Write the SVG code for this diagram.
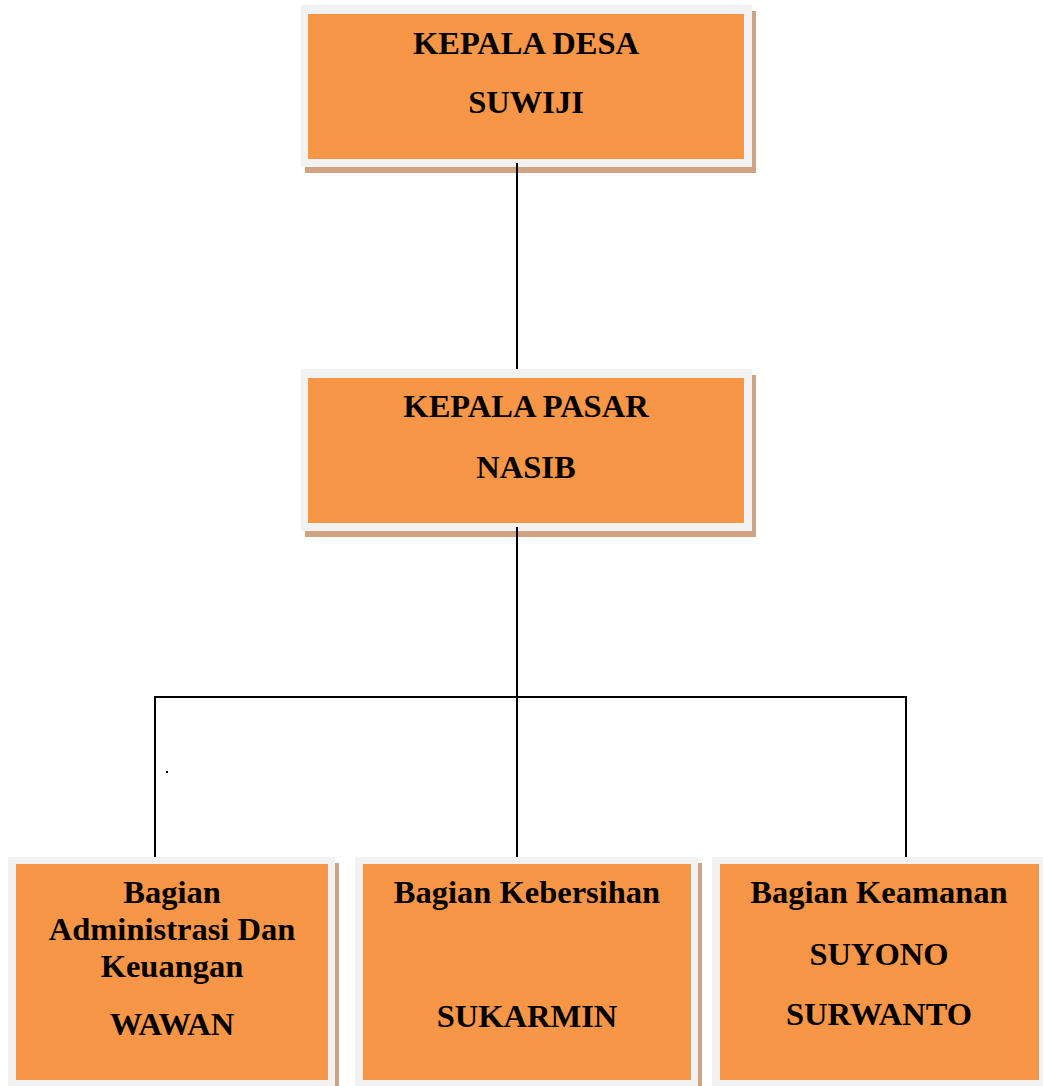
<svg xmlns="http://www.w3.org/2000/svg" width="1043" height="1086" viewBox="0 0 1043 1086">
<style>
.sh{fill:#d0a382}
.bd{fill:#f2f2f2}
.bx{fill:#f79646}
.t{font-family:"Liberation Serif","Times New Roman",serif;font-weight:bold;font-size:32.5px;fill:#000;text-anchor:middle}
.ln{stroke:#000;stroke-width:2;fill:none}
</style>
<rect width="1043" height="1086" fill="#fff"/>
<g id="kepala-desa">
<rect class="sh" x="305" y="11" width="451" height="162"/>
<rect class="bd" x="301" y="5" width="451" height="162"/>
<rect class="bx" x="308" y="14" width="436" height="145"/>
<text class="t" x="526" y="54">KEPALA DESA</text>
<text class="t" x="526" y="113">SUWIJI</text>
</g>
<g id="kepala-pasar">
<rect class="sh" x="305" y="375" width="451" height="162"/>
<rect class="bd" x="301" y="369" width="451" height="162"/>
<rect class="bx" x="308" y="378" width="436" height="145"/>
<text class="t" x="526" y="417">KEPALA PASAR</text>
<text class="t" x="526" y="478">NASIB</text>
</g>
<g id="bagian-admin">
<rect class="sh" x="12" y="863" width="327" height="230"/>
<rect class="bd" x="8" y="857" width="327" height="230"/>
<rect class="bx" x="16" y="864" width="312" height="216"/>
<text class="t" x="172" y="903">Bagian</text>
<text class="t" x="172" y="940">Administrasi Dan</text>
<text class="t" x="172" y="977">Keuangan</text>
<text class="t" x="172" y="1035">WAWAN</text>
</g>
<g id="bagian-kebersihan">
<rect class="sh" x="359" y="863" width="343" height="230"/>
<rect class="bd" x="355" y="857" width="343" height="230"/>
<rect class="bx" x="363" y="864" width="328" height="216"/>
<text class="t" x="527" y="903">Bagian Kebersihan</text>
<text class="t" x="527" y="1027">SUKARMIN</text>
</g>
<g id="bagian-keamanan">
<rect class="sh" x="716" y="863" width="335" height="230"/>
<rect class="bd" x="712" y="857" width="335" height="230"/>
<rect class="bx" x="720" y="864" width="319" height="216"/>
<text class="t" x="879" y="903">Bagian Keamanan</text>
<text class="t" x="879" y="965">SUYONO</text>
<text class="t" x="879" y="1025">SURWANTO</text>
</g>
<g id="connectors">
<line class="ln" x1="517" y1="163" x2="517" y2="369"/>
<line class="ln" x1="517" y1="527" x2="517" y2="698"/>
<polyline class="ln" points="155,857 155,697 906,697 906,857"/>
<line class="ln" x1="517" y1="697" x2="517" y2="857"/>
</g>
<rect x="166" y="771" width="2" height="2" fill="#000"/>
</svg>
